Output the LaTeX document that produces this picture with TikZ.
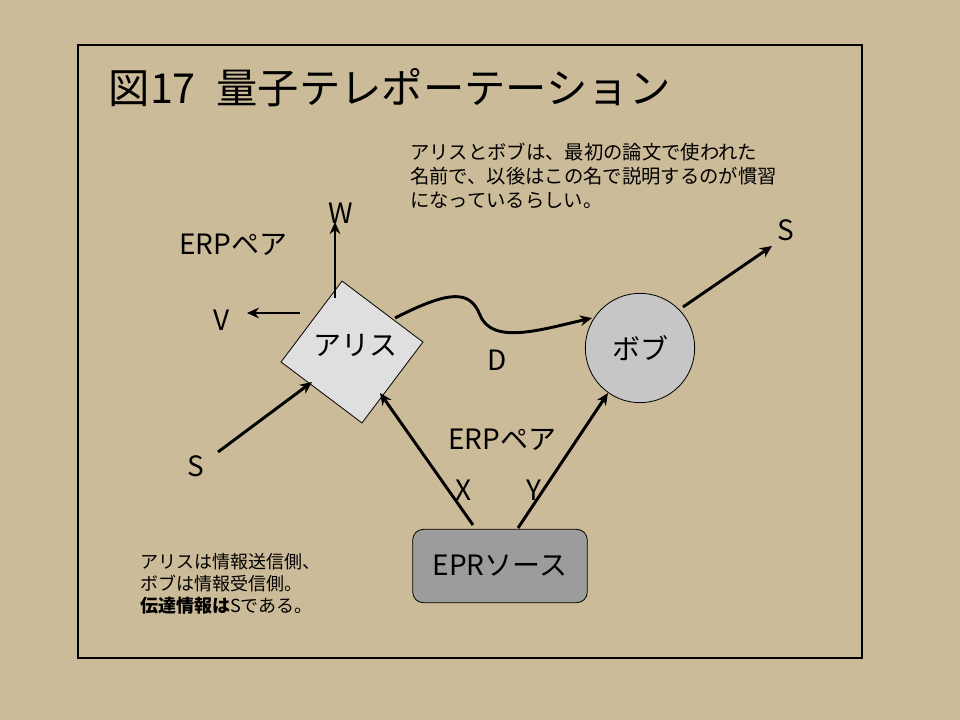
\documentclass[tikz,border=0pt]{standalone}
\usepackage{fontspec}
\setmainfont{Noto Sans CJK JP}
\usetikzlibrary{arrows.meta}
\definecolor{bg}{RGB}{204,187,153}
\begin{document}
\begin{tikzpicture}[x=0.75pt,y=-0.75pt,
  arr/.style={line width=2.2pt,-{Stealth[length=9pt,width=8pt]}},
  lbl/.style={font=\fontsize{21}{24}\selectfont},
  note/.style={align=left,anchor=north west,inner sep=0}]
\fill[bg] (0,0) rectangle (960,720);
\useasboundingbox (0,0) rectangle (960,720);
\draw[line width=1pt] (78,45) rectangle (862,658);
\node[anchor=west,font=\fontsize{31}{36}\selectfont] (title) at (104,88) {図17\hspace{0.5em}量子テレポーテーション};
\node[note,font=\fontsize{14.5}{18}\selectfont] (n1) at (410,143) {アリスとボブは、最初の論文で使われた\\名前で、以後はこの名で説明するのが慣習\\になっているらしい。};
\node[note,font=\fontsize{13.5}{16.5}\selectfont] (n2) at (140,553) {アリスは情報送信側、\\ボブは情報受信側。\\\textbf{伝達情報は}Sである。};
\node[draw,fill=gray!25,minimum size=76pt,rotate=-37,line width=0.6pt] (alice) at (352,352) {};
\node[lbl] (alicet) at (355,345) {アリス};
\node[draw,circle,fill=gray!45,minimum size=82pt,line width=0.6pt] (bob) at (640,348) {};
\node[lbl] (bobt) at (640,348) {ボブ};
\node[draw,rounded corners=8pt,fill=gray!70!black!60,minimum width=131pt,minimum height=55pt,line width=0.6pt] (epr) at (500,566) {};
\node[lbl] (eprt) at (500,566) {EPRソース};
\coordinate (wa) at (335,298); \coordinate (wb) at (335,222);
\coordinate (va) at (300,313); \coordinate (vb) at (247,313);
\coordinate (sa) at (218,452); \coordinate (sb) at (312,382);
\coordinate (da) at (395,318); \coordinate (db) at (592,318);
\coordinate (ba) at (683,307); \coordinate (bb) at (772,246);
\coordinate (xa) at (473,525); \coordinate (xb) at (380,393);
\coordinate (ya) at (518,528); \coordinate (yb) at (608,393);
\draw[arr] (wa) -- (wb);
\draw[arr] (va) -- (vb);
\draw[arr] (sa) -- (sb);
\draw[arr] (da) .. controls (450,290) and (470,290) .. (480,315) .. controls (492,345) and (540,330) .. (db);
\draw[arr] (ba) -- (bb);
\draw[arr] (xa) -- (xb);
\draw[arr] (ya) -- (yb);
\node[lbl] (W) at (341,213) {W};
\node[lbl] (V) at (222,320) {V};
\node[lbl] (e1) at (233,245) {ERPペア};
\node[lbl] (S1) at (196,466) {S};
\node[lbl] (D) at (497,360) {D};
\node[lbl] (S2) at (786,230) {S};
\node[lbl] (e2) at (502,440) {ERPペア};
\node[lbl] (X) at (464,490) {X};
\node[lbl] (Y) at (534,490) {Y};
\end{tikzpicture}
\end{document}
